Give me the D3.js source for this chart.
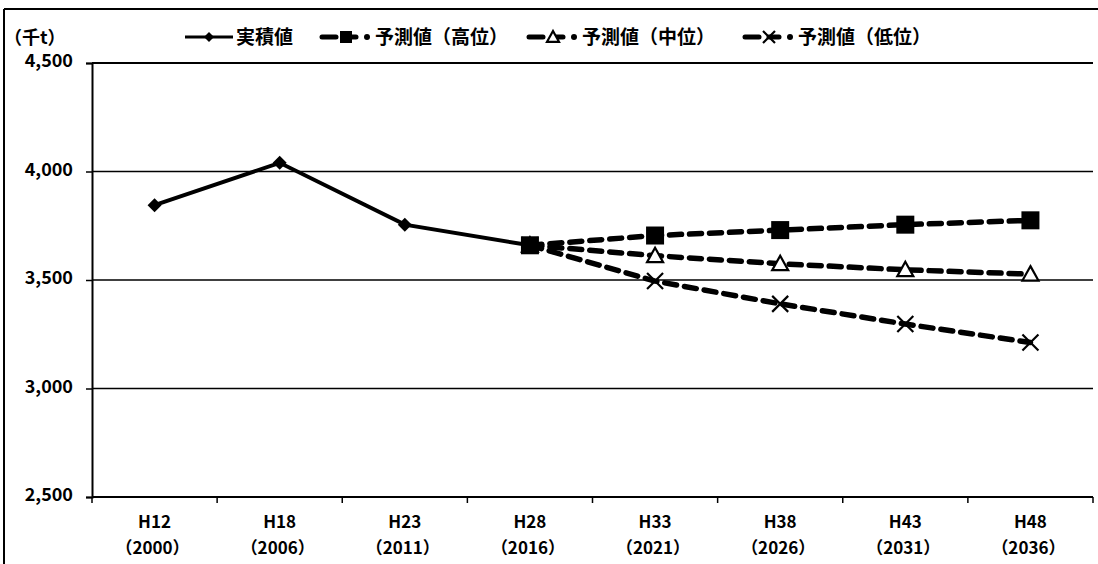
<!DOCTYPE html>
<html>
<head>
<meta charset="utf-8">
<script src="https://cdn.jsdelivr.net/npm/d3@7"></script>
<style>
  body { margin: 0; background: #fff; }
  text { font-family: "Noto Sans CJK JP", "Noto Sans", sans-serif; font-weight: bold; fill: #000; }
</style>
</head>
<body>
<div class="chart-container"></div>
<script>
// categories (era year + western year)
var eraLabels = ['H12', 'H18', 'H23', 'H28', 'H33', 'H38', 'H43', 'H48'];
var yearLabels = ['（2000）', '（2006）', '（2011）', '（2016）', '（2021）', '（2026）', '（2031）', '（2036）'];

// values in thousand tonnes
var actual = [3845, 4040, 3755, 3660, null, null, null, null];
var forecastHigh = [null, null, null, 3660, 3705, 3730, 3755, 3775];
var forecastMid = [null, null, null, 3660, 3612, 3575, 3547, 3527];
var forecastLow = [null, null, null, 3660, 3495, 3390, 3297, 3212];

var yTicks = [2500, 3000, 3500, 4000, 4500];

var width = 1098, height = 564;
var margin = {top: 63, right: 5, bottom: 67, left: 92};
var innerW = width - margin.left - margin.right,
    innerH = height - margin.top - margin.bottom;

var svg = d3.select('.chart-container').append('svg')
    .attr('width', width)
    .attr('height', height);

// outer frame (left + top edges)
svg.append('line').attr('x1', 4).attr('x2', 4).attr('y1', 9).attr('y2', height)
    .attr('stroke', '#000').attr('stroke-width', 2);
svg.append('line').attr('x1', 4).attr('x2', width).attr('y1', 9).attr('y2', 9)
    .attr('stroke', '#000').attr('stroke-width', 2);

var g = svg.append('g')
    .attr('transform', 'translate(' + margin.left + ',' + margin.top + ')');

var x = d3.scaleBand().domain(eraLabels).range([0, innerW]);
var y = d3.scaleLinear().domain([2500, 4500]).range([innerH, 0]);

// gridlines
g.selectAll('.grid').data(yTicks.slice(1)).enter().append('line')
    .attr('x1', 0).attr('x2', innerW)
    .attr('y1', function (d) { return y(d); })
    .attr('y2', function (d) { return y(d); })
    .attr('stroke', '#000').attr('stroke-width', function (d) { return d === 4500 ? 2.2 : 1.7; });

// y axis
var yAxis = d3.axisLeft(y).tickValues(yTicks).tickSize(6).tickFormat(d3.format(','));
var yg = g.append('g').call(yAxis);
yg.select('.domain').attr('stroke-width', 2);
yg.selectAll('.tick line').attr('stroke-width', 1.5);
yg.selectAll('.tick text').attr('x', -19).attr('dy', '0.2em').style('font-size', '18px')
    .style('font-family', '"Noto Sans CJK JP", sans-serif');

// x axis with ticks at band boundaries
var xg = g.append('g').attr('transform', 'translate(0,' + innerH + ')');
xg.append('line').attr('x1', 0).attr('x2', innerW).attr('y1', 0).attr('y2', 0)
    .attr('stroke', '#000').attr('stroke-width', 2);
xg.selectAll('.xtick').data(eraLabels.concat(['end'])).enter().append('line')
    .attr('x1', function (d, i) { return i * x.step(); })
    .attr('x2', function (d, i) { return i * x.step(); })
    .attr('y1', 0).attr('y2', 6)
    .attr('stroke', '#000').attr('stroke-width', 1.5);
var lab = xg.selectAll('.xlab').data(eraLabels).enter().append('text')
    .attr('x', function (d) { return x(d) + x.bandwidth() / 2; })
    .attr('text-anchor', 'middle')
    .style('font-size', '17px');
lab.append('tspan').attr('x', function (d) { return x(d) + x.bandwidth() / 2; })
    .attr('y', 31).text(function (d) { return d; });
lab.append('tspan').attr('x', function (d) { return x(d) + x.bandwidth() / 2 - 2; })
    .attr('y', 57).text(function (d, i) { return yearLabels[i]; });

function cx(i) { return x(eraLabels[i]) + x.bandwidth() / 2; }

var line = d3.line()
    .defined(function (d) { return d != null; })
    .x(function (d, i) { return cx(i); })
    .y(function (d) { return y(d); });

function pts(arr) {
  return arr.map(function (v, i) { return {v: v, i: i}; }).filter(function (d) { return d.v != null; });
}

var dash = '12,8';

// forecast lines
[forecastLow, forecastMid, forecastHigh].forEach(function (s) {
  g.append('path').datum(s).attr('d', line)
    .attr('fill', 'none').attr('stroke', '#000').attr('stroke-width', 5.5)
    .attr('stroke-dasharray', dash).attr('stroke-linecap', 'round');
});

// actual line
g.append('path').datum(actual).attr('d', line)
  .attr('fill', 'none').attr('stroke', '#000').attr('stroke-width', 4);

// markers
function diamond(sel, s) {
  sel.append('path').attr('d', 'M0,' + (-s) + 'L' + s + ',0L0,' + s + 'L' + (-s) + ',0Z').attr('fill', '#000');
}
function square(sel, s) {
  sel.append('rect').attr('x', -s).attr('y', -s).attr('width', 2 * s).attr('height', 2 * s).attr('fill', '#000');
}
function triangle(sel, s) {
  sel.append('path').attr('d', 'M0,' + (-s) + 'L' + s + ',' + (s * 0.8) + 'L' + (-s) + ',' + (s * 0.8) + 'Z')
    .attr('fill', '#fff').attr('stroke', '#000').attr('stroke-width', 2.2);
}
function cross(sel, s) {
  sel.append('path').attr('d', 'M' + (-s) + ',' + (-s) + 'L' + s + ',' + s + 'M' + s + ',' + (-s) + 'L' + (-s) + ',' + s)
    .attr('stroke', '#000').attr('stroke-width', 2.2).attr('fill', 'none');
}

pts(forecastLow).forEach(function (d) {
  var m = g.append('g').attr('transform', 'translate(' + cx(d.i) + ',' + y(d.v) + ')');
  cross(m, 8);
});
pts(forecastMid).forEach(function (d) {
  var m = g.append('g').attr('transform', 'translate(' + cx(d.i) + ',' + y(d.v) + ')');
  triangle(m, 8);
});
pts(forecastHigh).forEach(function (d) {
  var m = g.append('g').attr('transform', 'translate(' + cx(d.i) + ',' + y(d.v) + ')');
  square(m, 9);
});
pts(actual).forEach(function (d) {
  var m = g.append('g').attr('transform', 'translate(' + cx(d.i) + ',' + y(d.v) + ')');
  diamond(m, 7);
});

// unit label
svg.append('text').attr('x', 4).attr('y', 44).style('font-size', '18px').text('（千t）');

// legend
var legendItems = [
  {name: '実積値', x: 185, solid: true, mark: diamond, ms: 5},
  {name: '予測値（高位）', x: 322, solid: false, mark: square, ms: 6},
  {name: '予測値（中位）', x: 529, solid: false, mark: triangle, ms: 6},
  {name: '予測値（低位）', x: 745, solid: false, mark: cross, ms: 6}
];
var ly = 37;
legendItems.forEach(function (it) {
  var lg = svg.append('g').attr('transform', 'translate(' + it.x + ',' + ly + ')');
  if (it.solid) {
    lg.append('line').attr('x1', 0).attr('x2', 48).attr('y1', 0).attr('y2', 0)
      .attr('stroke', '#000').attr('stroke-width', 3);
  } else {
    lg.append('line').attr('x1', 0).attr('x2', 14).attr('y1', 0).attr('y2', 0)
      .attr('stroke', '#000').attr('stroke-width', 5).attr('stroke-linecap', 'round');
    lg.append('line').attr('x1', 24).attr('x2', 34).attr('y1', 0).attr('y2', 0)
      .attr('stroke', '#000').attr('stroke-width', 5).attr('stroke-linecap', 'round');
    lg.append('circle').attr('cx', 45).attr('cy', 0).attr('r', 3).attr('fill', '#000');
  }
  var mg = lg.append('g').attr('transform', 'translate(24,0)');
  it.mark(mg, it.ms);
  lg.append('text').attr('x', it.solid ? 51 : 53).attr('y', 7).style('font-size', '19px').text(it.name);
});
</script>
</body>
</html>
